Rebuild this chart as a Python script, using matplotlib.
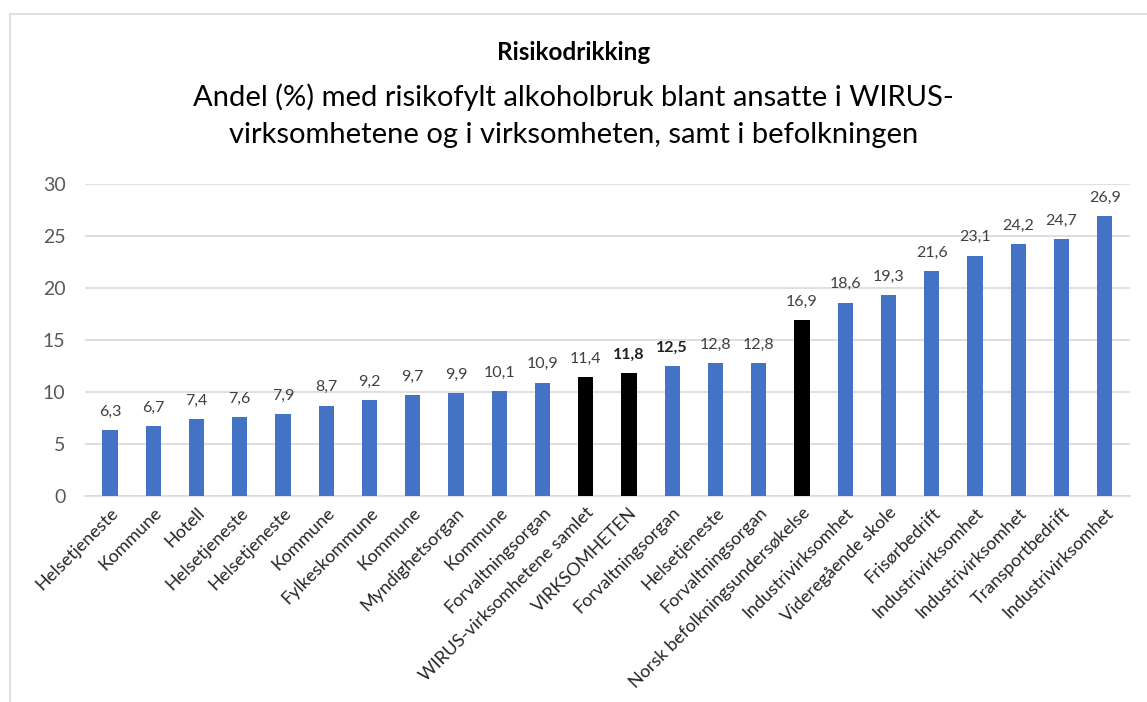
import matplotlib.pyplot as plt
from matplotlib.patches import Rectangle

categories = ["Helsetjeneste", "Kommune", "Hotell", "Helsetjeneste", "Helsetjeneste",
              "Kommune", "Fylkeskommune", "Kommune", "Myndighetsorgan", "Kommune",
              "Forvaltningsorgan", "WIRUS-virksomhetene samlet", "VIRKSOMHETEN",
              "Forvaltningsorgan", "Helsetjeneste", "Forvaltningsorgan",
              "Norsk befolkningsundersøkelse", "Industrivirksomhet", "Videregående skole",
              "Frisørbedrift", "Industrivirksomhet", "Industrivirksomhet",
              "Transportbedrift", "Industrivirksomhet"]
values = [6.3, 6.7, 7.4, 7.6, 7.9, 8.7, 9.2, 9.7, 9.9, 10.1, 10.9, 11.4, 11.8,
          12.5, 12.8, 12.8, 16.9, 18.6, 19.3, 21.6, 23.1, 24.2, 24.7, 26.9]
black_bars = [11, 12, 16]
bold_labels = [12, 13]

plt.rcParams['font.family'] = ['Lato', 'DejaVu Sans']

fig = plt.figure(figsize=(11.47, 7.02), dpi=100)
ax = fig.add_axes([0.074, 0.2934, 0.911, 0.4446])

colors = ['black' if i in black_bars else '#4472C4' for i in range(len(values))]
x = list(range(len(values)))
ax.bar(x, values, width=0.35, color=colors, zorder=3)

for i, v in enumerate(values):
    ax.text(i, v + 1.1, f"{v:.1f}".replace('.', ','), ha='center', va='bottom',
            fontsize=11.5, color='#404040' if i not in bold_labels else '#202020',
            fontweight='bold' if i in bold_labels else 'normal')

ax.set_ylim(0, 30)
ax.set_xlim(-0.58, len(values) - 0.42)
ax.set_yticks(range(0, 31, 5))
ax.yaxis.grid(True, color='#d9d9d9', lw=1.2, zorder=0)
ax.tick_params(axis='y', length=0, labelsize=14, labelcolor='#595959', pad=14)
ax.tick_params(axis='x', length=0, labelsize=13, labelcolor='#262626', pad=6)
ax.set_xticks(x)
ax.set_xticklabels(categories, rotation=45, ha='right', rotation_mode='anchor')
for s in ['top', 'right', 'left']:
    ax.spines[s].set_visible(False)
ax.spines['bottom'].set_color('#d9d9d9')
ax.spines['bottom'].set_linewidth(1.2)

fig.text(0.5, 1 - 52 / 702, "Risikodrikking", ha='center', va='center',
         fontsize=17.5, fontweight='bold', color='black')
fig.text(0.5, 1 - 97 / 702, "Andel (%) med risikofylt alkoholbruk blant ansatte i WIRUS-",
         ha='center', va='center', fontsize=21, color='black')
fig.text(0.5, 1 - 135 / 702, "virksomhetene og i virksomheten, samt i befolkningen",
         ha='center', va='center', fontsize=21, color='black')

fig.patches.append(Rectangle((10 / 1147, -0.01), 1.1, 1 - 14 / 702 + 0.01,
                             transform=fig.transFigure, fill=False,
                             edgecolor='#d9d9d9', lw=1.2))

fig.savefig('out.png', dpi=100)
